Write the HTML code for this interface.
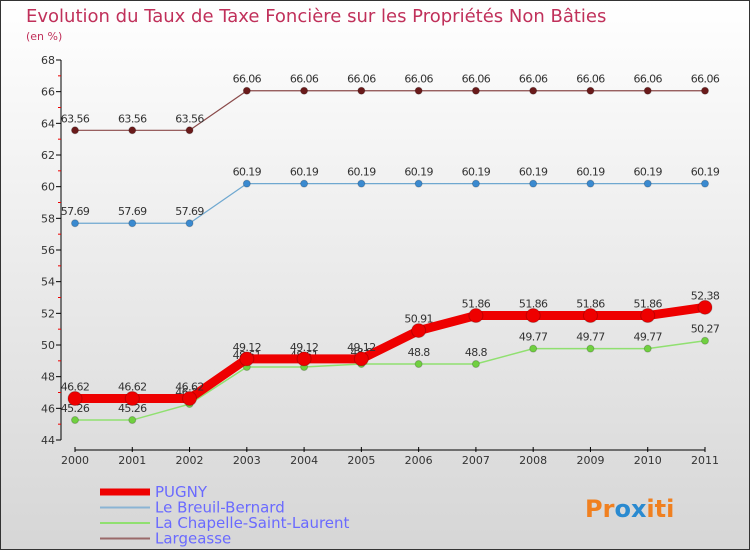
<!DOCTYPE html>
<html><head><meta charset="utf-8"><style>
body{margin:0}
#c{width:750px;height:550px;position:relative;box-sizing:border-box;border:1px solid #333;background:linear-gradient(#fff,#d6d6d6);font-family:"DejaVu Sans","Liberation Sans",sans-serif;overflow:hidden}
</style></head><body>
<div id="c">
<svg id="s" width="750" height="550" style="position:absolute;left:-1px;top:-1px">
<text x="26" y="22" font-size="18" fill="#c0305a">Evolution du Taux de Taxe Foncière sur les Propriétés Non Bâties</text>
<text x="26" y="40" font-size="11" fill="#c0305a">(en %)</text>
<g id="axes"></g><g id="series"></g>
<text x="585" y="517" font-size="24" font-weight="bold" fill="#f08020">Pr<tspan fill="#2a8ad0">o</tspan><tspan fill="#2a8ad0">x</tspan>iti</text>
</svg>
</div>
<script>
const years=["2000","2001","2002","2003","2004","2005","2006","2007","2008","2009","2010","2011"];
const yTicks=[44,46,48,50,52,54,56,58,60,62,64,66,68];
const pugny=[46.62,46.62,46.62,49.12,49.12,49.12,50.91,51.86,51.86,51.86,51.86,52.38];
const breuil=[57.69,57.69,57.69,60.19,60.19,60.19,60.19,60.19,60.19,60.19,60.19,60.19];
const chapelle=[45.26,45.26,46.27,48.61,48.61,48.8,48.8,48.8,49.77,49.77,49.77,50.27];
const largeasse=[63.56,63.56,63.56,66.06,66.06,66.06,66.06,66.06,66.06,66.06,66.06,66.06];
const NS="http://www.w3.org/2000/svg";
const X=i=>75+i*(630/(years.length-1));
const Y=v=>60+(68-v)*(380/24);
function mk(t,a,p){const e=document.createElementNS(NS,t);for(const k in a)e.setAttribute(k,a[k]);p.appendChild(e);return e;}
const ax=document.getElementById('axes');
let l=mk('line',{x1:61,y1:60,x2:61,y2:440,stroke:'#000'},ax);


yTicks.forEach(v=>{mk('line',{x1:56,y1:Y(v),x2:61,y2:Y(v),stroke:'#000'},ax);
 if(v<68)mk('line',{x1:58,y1:Y(v+1),x2:61,y2:Y(v+1),stroke:'#e00'},ax);
 const t=mk('text',{x:55,y:Y(v)+4,'font-size':11,'text-anchor':'end',fill:'#333'},ax);t.textContent=v;
 
 });
l=mk('line',{x1:75,y1:450,x2:705,y2:450,stroke:'#000'},ax);


years.forEach((y,i)=>{mk('line',{x1:X(i),y1:447,x2:X(i),y2:452,stroke:'#000'},ax);
 const t=mk('text',{x:X(i),y:464,'font-size':11,'text-anchor':'middle',fill:'#333'},ax);t.textContent=y;
 
 });
const sg=document.getElementById('series');
function series(name,data,col,w,r,dot){
 const g=mk('g',{},sg);
 
 
 mk('polyline',{points:data.map((v,i)=>X(i)+','+Y(v)).join(' '),fill:'none',stroke:col,'stroke-width':w},g);
 data.forEach((v,i)=>{const c=mk('circle',{cx:X(i),cy:Y(v),r:r,fill:dot,stroke:'#0003'},g);
  
  
  const t=mk('text',{x:X(i),y:Y(v)-8,'font-size':11,'letter-spacing':'-0.6','text-anchor':'middle',fill:'#333'},g);t.textContent=v;
  
  });
}
series('largeasse',largeasse,'#8a4a4a',1.2,3.5,'#6a1a1a');
series('breuil',breuil,'#6fa8d0',1.2,3.5,'#3a8ad0');
series('chapelle',chapelle,'#90e070',1.5,3.5,'#70d040');
series('pugny',pugny,'#e00',9,7,'#e00');
const leg=[['PUGNY','#e00',7],['Le Breuil-Bernard','#8ab4d4',2],['La Chapelle-Saint-Laurent','#90e070',2],['Largeasse','#9a6a6a',2]];
leg.forEach((d,i)=>{const y=492+i*15.5;
 const g=mk('g',{},sg);
 
 
 mk('line',{x1:100,y1:y,x2:150,y2:y,stroke:d[1],'stroke-width':d[2]},g);
 const t=mk('text',{x:155,y:y+5,'font-size':15,fill:'#6a6aff'},g);t.textContent=d[0];});
</script>
</body></html>
